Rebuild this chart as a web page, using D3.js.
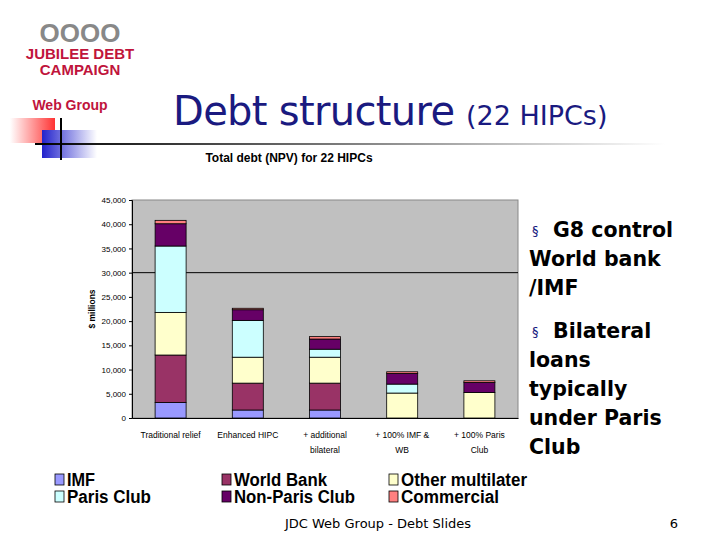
<!DOCTYPE html>
<html><head><meta charset="utf-8">
<script src="https://cdn.jsdelivr.net/npm/d3@7"></script>
<style>body{margin:0;background:#fff}</style>
</head><body>
<svg id="c" width="720" height="540"></svg>
<script>
// data ($ millions, NPV)
var categories = ["Traditional relief", "Enhanced HIPC", "+ additional|bilateral", "+ 100% IMF &|WB", "+ 100% Paris|Club"];
var seriesNames = ["IMF", "World Bank", "Other multilater", "Paris Club", "Non-Paris Club", "Commercial"];
var colours = ["#9999ff", "#993366", "#ffffcc", "#ccffff", "#660066", "#ff8080"];
var imf = [3200, 1650, 1650, 0, 0];
var worldBank = [9800, 5550, 5550, 0, 0];
var otherMulti = [8800, 5350, 5350, 5150, 5280];
var parisClub = [13700, 7600, 1650, 1850, 0];
var nonParis = [4600, 2200, 2100, 2200, 2060];
var commercial = [700, 300, 500, 340, 340];
var yTicks = [0, 5000, 10000, 15000, 20000, 25000, 30000, 35000, 40000, 45000];

var svg = d3.select('#c');

// header decoration
var g0 = svg.append('g');
g0.append('text').attr('x', 80).attr('y', 59).attr('text-anchor', 'middle')
  .attr('font-family', 'Liberation Sans').attr('font-weight', 'bold').attr('font-size', 15)
  .attr('fill', '#c0143c').text('JUBILEE DEBT');
g0.append('text').attr('x', 80).attr('y', 75).attr('text-anchor', 'middle')
  .attr('font-family', 'Liberation Sans').attr('font-weight', 'bold').attr('font-size', 15)
  .attr('fill', '#c0143c').text('CAMPAIGN');
g0.append('text').attr('x', 70).attr('y', 110).attr('text-anchor', 'middle')
  .attr('font-family', 'Liberation Sans').attr('font-weight', 'bold').attr('font-size', 14)
  .attr('fill', '#c0143c').text('Web Group');
g0.append('text').attr('x', 80).attr('y', 42).attr('text-anchor', 'middle')
  .attr('font-family', 'Liberation Sans').attr('font-weight', 'bold').attr('font-size', 26)
  .attr('fill', '#888').text('OOOO');
var grad = svg.append('defs');
var lr = grad.append('linearGradient').attr('id', 'red');
lr.append('stop').attr('offset', 0).attr('stop-color', '#fff');
lr.append('stop').attr('offset', 1).attr('stop-color', '#f33');
var lb = grad.append('linearGradient').attr('id', 'blue');
lb.append('stop').attr('offset', 0).attr('stop-color', '#22c');
lb.append('stop').attr('offset', 1).attr('stop-color', '#fff');
var lg = grad.append('linearGradient').attr('id', 'grey');
lg.append('stop').attr('offset', 0).attr('stop-color', '#000');
lg.append('stop').attr('offset', 1).attr('stop-color', '#fff');
g0.append('rect').attr('x', 10).attr('y', 118).attr('width', 45).attr('height', 25).attr('fill', 'url(#red)');
g0.append('rect').attr('x', 42).attr('y', 130).attr('width', 55).attr('height', 28).attr('fill', 'url(#blue)');
g0.append('rect').attr('x', 35).attr('y', 143).attr('width', 630).attr('height', 2).attr('fill', 'url(#grey)');
g0.append('rect').attr('x', 60).attr('y', 118).attr('width', 2).attr('height', 42).attr('fill', '#000');

svg.append('text').attr('x', 173).attr('y', 125).attr('font-family', 'DejaVu Sans')
  .attr('font-size', 40).attr('fill', '#1a1a80').attr('textLength', 282).text('Debt structure');
svg.append('text').attr('x', 466).attr('y', 125).attr('font-family', 'DejaVu Sans')
  .attr('font-size', 27).attr('fill', '#1a1a80').text('(22 HIPCs)');

svg.append('text').attr('x', 289).attr('y', 162).attr('text-anchor', 'middle')
  .attr('font-family', 'Liberation Sans').attr('font-weight', 'bold').attr('font-size', 12)
  .text('Total debt (NPV) for 22 HIPCs');

// chart
var plotL = 132, plotR = 518, plotT = 200, plotB = 418;
var x = d3.scaleBand().domain(categories).range([plotL, plotR]);
var y = d3.scaleLinear().domain([0, 45000]).range([plotB, plotT]);

svg.append('rect').attr('x', plotL).attr('y', plotT).attr('width', plotR - plotL).attr('height', plotB - plotT)
  .attr('fill', '#c0c0c0').attr('stroke', '#888');
svg.append('line').attr('x1', plotL).attr('x2', plotR).attr('y1', y(30000)).attr('y2', y(30000))
  .attr('stroke', '#000');

var yAxis = svg.append('g').attr('transform', 'translate(' + plotL + ',0)')
  .call(d3.axisLeft(y).tickValues(yTicks).tickFormat(d3.format(',')).tickSize(3));
yAxis.selectAll('text').attr('font-family', 'Liberation Sans').attr('font-size', 8);
var xAxis = svg.append('g').attr('transform', 'translate(0,' + plotB + ')')
  .call(d3.axisBottom(x).tickSize(0).tickFormat(''));
categories.forEach(function (c) {
  c.split('|').forEach(function (p, i) {
    svg.append('text').attr('x', x(c) + x.bandwidth() / 2).attr('y', 438 + i * 15)
      .attr('text-anchor', 'middle').attr('font-family', 'Liberation Sans').attr('font-size', 8.5).text(p);
  });
});
svg.append('text').attr('transform', 'translate(95,' + ((plotT + plotB) / 2) + ') rotate(-90)')
  .attr('text-anchor', 'middle').attr('font-family', 'Liberation Sans').attr('font-weight', 'bold')
  .attr('font-size', 8.5).text('$ millions');

var series = [imf, worldBank, otherMulti, parisClub, nonParis, commercial];
var rows = categories.map(function (c, i) {
  var r = { cat: c };
  seriesNames.forEach(function (s, k) { r[s] = series[k][i]; });
  return r;
});
var stack = d3.stack().keys(seriesNames)(rows);
var bw = 31;
svg.selectAll('g.layer').data(stack).enter().append('g').attr('class', 'layer')
  .attr('fill', function (d, i) { return colours[i]; })
  .selectAll('rect').data(function (d) { return d.filter(function (e) { return e[1] > e[0]; }); })
  .enter().append('rect')
  .attr('x', function (d) { return x(d.data.cat) + x.bandwidth() / 2 - bw / 2; })
  .attr('width', bw)
  .attr('y', function (d) { return y(d[1]); })
  .attr('height', function (d) { return y(d[0]) - y(d[1]); })
  .attr('stroke', '#000').attr('stroke-width', 0.8);

// legend
var legPos = [[55, 486], [222, 486], [389, 486], [55, 503], [222, 503], [389, 503]];
var legLen = [28, 93, 126, 84, 121, 98];
seriesNames.forEach(function (s, i) {
  var p = legPos[i];
  svg.append('rect').attr('x', p[0]).attr('y', p[1] - 12).attr('width', 9).attr('height', 11)
    .attr('fill', colours[i]).attr('stroke', '#000').attr('stroke-width', 0.8);
  svg.append('text').attr('x', p[0] + 12).attr('y', p[1]).attr('font-family', 'Liberation Sans')
    .attr('font-weight', 'bold').attr('font-size', 18).attr('fill', '#000')
    .attr('textLength', legLen[i]).attr('lengthAdjust', 'spacingAndGlyphs').text(s);
});

// bullets
var bullets = [
  [237, ['G8 control', 'World bank', '/IMF']],
  [338, ['Bilateral', 'loans', 'typically', 'under Paris', 'Club']]
];
bullets.forEach(function (b) {
  b[1].forEach(function (t, i) {
    svg.append('text').attr('x', i === 0 ? 553 : 529).attr('y', b[0] + i * 29)
      .attr('font-family', 'DejaVu Sans').attr('font-weight', 'bold').attr('font-size', 20.5)
      .attr('fill', '#000').text(t);
  });
  svg.append('text').attr('x', 532).attr('y', b[0] - 2).attr('font-family', 'DejaVu Sans')
    .attr('font-size', 13).attr('fill', '#1a1a80').text('§');
});

svg.append('text').attr('x', 378).attr('y', 528).attr('text-anchor', 'middle').attr('font-family', 'DejaVu Sans')
  .attr('font-size', 13).text('JDC Web Group  - Debt Slides');
svg.append('text').attr('x', 678).attr('y', 528).attr('text-anchor', 'end').attr('font-family', 'DejaVu Sans')
  .attr('font-size', 13).text('6');
</script>
</body></html>
